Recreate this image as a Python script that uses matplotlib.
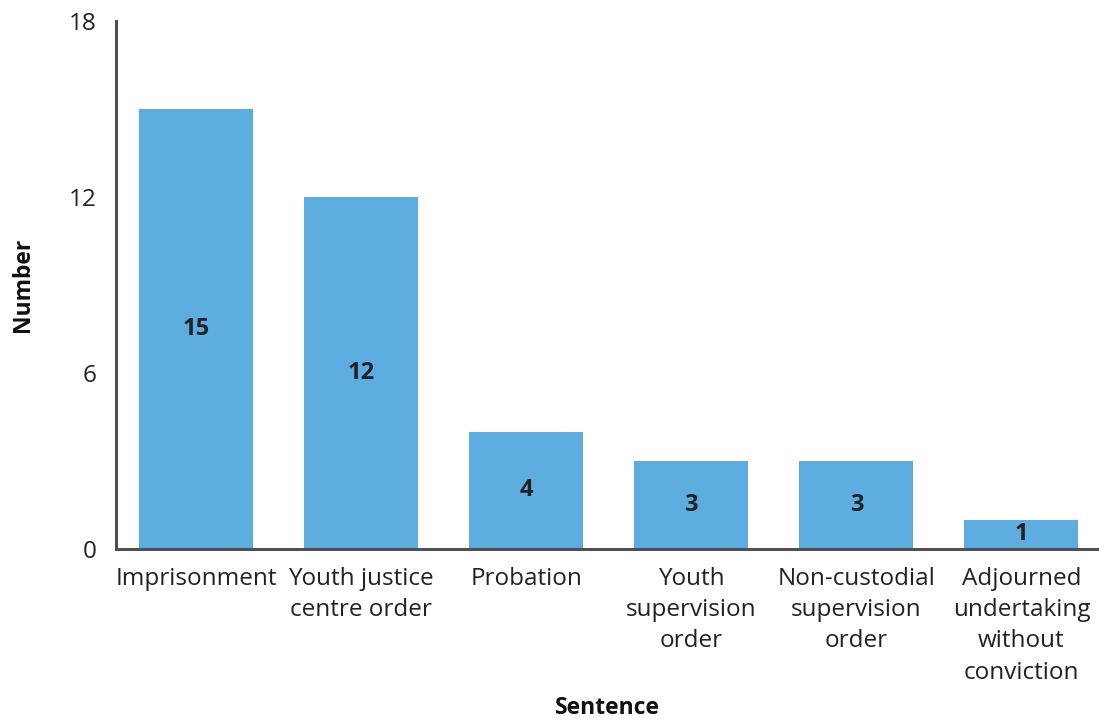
import numpy as np
import matplotlib.pyplot as plt

plt.rcParams['font.family'] = ['Open Sans', 'DejaVu Sans']

# Data
categories = ['Imprisonment', 'Youth justice\ncentre order', 'Probation',
              'Youth\nsupervision\norder', 'Non-custodial\nsupervision\norder',
              'Adjourned\nundertaking\nwithout\nconviction']
counts = [15, 12, 4, 3, 3, 1]
yticks = [0, 6, 12, 18]

fig = plt.figure(figsize=(10.99, 7.24), dpi=100)
ax = fig.add_axes([0.1056, 0.2417, 0.8944, 0.7293])

x = np.arange(len(categories))
bars = ax.bar(x, counts, width=0.69, color='#5DADE0')

# value labels in the middle of each bar
for xi, v in zip(x, counts):
    ax.text(xi, v / 2, str(v), ha='center', va='center',
            fontsize=17, fontweight='bold', color='#222222')

ax.set_xlim(-0.485, 5.47)
ax.set_ylim(0, 18)
ax.set_yticks(yticks)
ax.set_xticks(x)
ax.set_xticklabels(categories, fontsize=17.5, color='#222222', linespacing=1.4)
ax.tick_params(axis='y', labelsize=17.5, labelcolor='#222222', length=0, pad=14)
ax.tick_params(axis='x', length=0, pad=13)

for side in ['top', 'right']:
    ax.spines[side].set_visible(False)
for side in ['left', 'bottom']:
    ax.spines[side].set_color('#4d5055')
    ax.spines[side].set_linewidth(2.2)

ax.set_ylabel('Number', fontsize=16.5, fontweight='bold', color='#111111', labelpad=24)
ax.set_xlabel('Sentence', fontsize=16.5, fontweight='bold', color='#111111', labelpad=8)

plt.savefig('out.png', dpi=100)
